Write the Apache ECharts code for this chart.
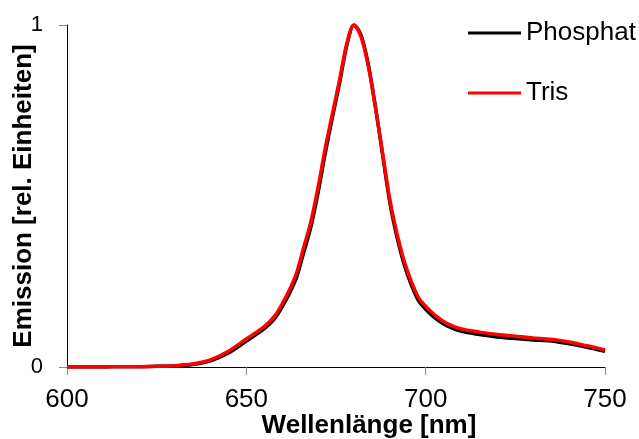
<!DOCTYPE html>
<html>
<head>
<meta charset="utf-8">
<script src="https://cdn.jsdelivr.net/npm/echarts@6/dist/echarts.min.js"></script>
<style>
  html, body { margin: 0; padding: 0; background: #fff; }
  #main { width: 639px; height: 439px; }
</style>
</head>
<body>
<div id="main"></div>
<script>
// Wellenlängen [nm]
const wavelengths = [600, 605, 610, 615, 620, 625, 630, 635, 640, 645, 650, 655, 658, 660, 662, 664, 666, 668, 670, 672, 674, 676, 678, 680, 682, 684, 686, 688, 690, 692, 694, 696, 698, 700, 703, 706, 710, 715, 720, 725, 730, 735, 740, 745, 750];

// Emission, normiert
const phosphat = [0, 0, 0, 0.001, 0.001, 0.002, 0.003, 0.007, 0.018, 0.041, 0.076, 0.112, 0.143, 0.176, 0.215, 0.262, 0.335, 0.41, 0.51, 0.625, 0.73, 0.83, 0.94, 1.0, 0.97, 0.885, 0.76, 0.62, 0.482, 0.38, 0.3, 0.24, 0.194, 0.169, 0.14, 0.12, 0.104, 0.095, 0.088, 0.083, 0.079, 0.076, 0.068, 0.058, 0.046];
const tris = [0, 0, 0, 0.001, 0.001, 0.002, 0.004, 0.009, 0.021, 0.046, 0.082, 0.118, 0.15, 0.185, 0.225, 0.275, 0.35, 0.425, 0.525, 0.64, 0.74, 0.84, 0.945, 1.0, 0.965, 0.88, 0.76, 0.625, 0.49, 0.39, 0.31, 0.25, 0.203, 0.178, 0.148, 0.127, 0.111, 0.102, 0.095, 0.09, 0.085, 0.081, 0.073, 0.062, 0.05];

const seriesNames = ['Phosphat', 'Tris'];
const seriesColors = ['#000000', '#ff0000'];

const font = '"Liberation Sans", Arial, sans-serif';

const chart = echarts.init(document.getElementById('main'));

const pairs = values => wavelengths.map((w, i) => [w, values[i]]);

const option = {
  animation: false,
  textStyle: { fontFamily: font },
  grid: {
    top: 25,
    left: 67,
    right: 34,
    bottom: 72,
    containLabel: false,
    outerBoundsMode: 'none'
  },
  legend: {
    orient: 'vertical',
    left: 468,
    top: 20,
    padding: 0,
    itemWidth: 53,
    itemHeight: 3,
    itemGap: 34,
    icon: 'rect',
    data: seriesNames,
    textStyle: { fontFamily: font, fontSize: 26, color: '#000' }
  },
  xAxis: {
    type: 'value',
    min: 600,
    max: 750,
    interval: 50,
    name: 'Wellenlänge [nm]',
    nameLocation: 'middle',
    nameGap: 46,
    nameMoveOverlap: false,
    nameTextStyle: {
      fontFamily: font,
      fontSize: 26,
      fontWeight: 'bold',
      color: '#000',
      padding: [0, 0, 0, 66]
    },
    axisLine: { show: true, onZero: false, lineStyle: { color: '#000', width: 1 } },
    axisTick: { show: true, length: 8, lineStyle: { color: '#888' } },
    axisLabel: { fontFamily: font, fontSize: 26, color: '#000', margin: 20 },
    splitLine: { show: false }
  },
  yAxis: {
    type: 'value',
    min: 0,
    max: 1,
    interval: 1,
    name: 'Emission [rel. Einheiten]',
    nameLocation: 'middle',
    nameGap: 30,
    nameMoveOverlap: false,
    nameTextStyle: {
      fontFamily: font,
      fontSize: 26,
      fontWeight: 'bold',
      color: '#000'
    },
    axisLine: { show: true, lineStyle: { color: '#000', width: 1 } },
    axisTick: { show: true, length: 8, lineStyle: { color: '#888' } },
    axisLabel: { fontFamily: font, fontSize: 22, color: '#000', margin: 24 },
    splitLine: { show: false }
  },
  series: [
    {
      name: seriesNames[0],
      type: 'line',
      smooth: 0.3,
      showSymbol: false,
      color: seriesColors[0],
      lineStyle: { width: 3.5, color: seriesColors[0] },
      data: pairs(phosphat)
    },
    {
      name: seriesNames[1],
      type: 'line',
      smooth: 0.3,
      showSymbol: false,
      color: seriesColors[1],
      lineStyle: { width: 3.5, color: seriesColors[1] },
      data: pairs(tris)
    }
  ]
};

chart.setOption(option);
</script>
</body>
</html>
